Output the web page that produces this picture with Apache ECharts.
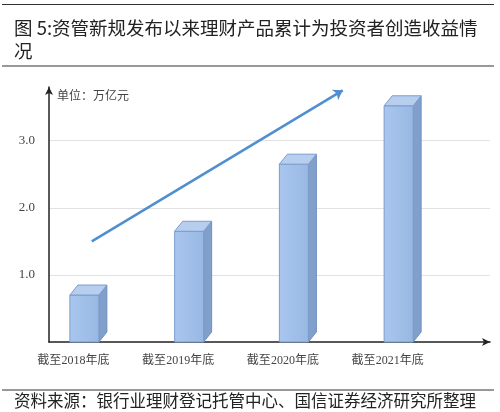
<!DOCTYPE html>
<html>
<head>
<meta charset="utf-8">
<script src="https://cdn.jsdelivr.net/npm/echarts@6/dist/echarts.min.js"></script>
<style>
  html, body { margin: 0; padding: 0; background: #fff; }
  #main { width: 500px; height: 412px; }
</style>
</head>
<body>
<div id="main"></div>
<script>
// 数据
const categories = ['截至2018年底', '截至2019年底', '截至2020年底', '截至2021年底']
const values = [0.70, 1.65, 2.65, 3.52]
const yTicks = [0, 1, 2, 3]
// 趋势箭头起止点（x为0~1比例，y为万亿元）
const arrowFrom = [0.097, 1.50]
const arrowTo = [0.666, 3.75]

const myEcharts = echarts.init(document.getElementById('main'))

const serif = 'Liberation Serif, DejaVu Serif, Noto Sans CJK SC'
const cjk = 'Noto Sans CJK SC'

// 立体柱子
function renderBar (params, api) {
  const top = api.coord([api.value(0), api.value(1)])
  const base = api.coord([api.value(0), 0])
  const w = 29 // 正面宽度
  const dx = 8 // 侧面深度
  const dy = 10
  const x0 = top[0] - 3.5
  const y0 = top[1]
  const y1 = base[1]
  return {
    type: 'group',
    children: [
      {
        type: 'polygon',
        shape: { points: [[x0 + w, y0], [x0 + w + dx, y0 - dy], [x0 + w + dx, y1 - dy], [x0 + w, y1]] },
        style: { fill: '#809fca', stroke: '#7090bf', lineWidth: 1 }
      },
      {
        type: 'rect',
        shape: { x: x0, y: y0, width: w, height: y1 - y0 },
        style: {
          fill: {
            type: 'linear', x: 0, y: 0, x2: 1, y2: 0,
            colorStops: [{ offset: 0, color: '#a9c6ee' }, { offset: 1, color: '#98b8e3' }]
          },
          stroke: '#7b9dcc',
          lineWidth: 1
        }
      },
      {
        type: 'polygon',
        shape: { points: [[x0, y0], [x0 + dx, y0 - dy], [x0 + w + dx, y0 - dy], [x0 + w, y0]] },
        style: { fill: '#b8ceee', stroke: '#7b9dcc', lineWidth: 1 }
      }
    ]
  }
}

const option = {
  title: [
    {
      text: '图 5:资管新规发布以来理财产品累计为投资者创造收益情\n况',
      left: 14,
      top: 16,
      padding: 0,
      textStyle: { fontFamily: cjk, fontSize: 18.5, fontWeight: 'normal', color: '#222', lineHeight: 23 }
    },
    {
      text: '资料来源：银行业理财登记托管中心、国信证券经济研究所整理',
      left: 14,
      top: 392,
      padding: 0,
      textStyle: { fontFamily: cjk, fontSize: 16.5, fontWeight: 'normal', color: '#222', lineHeight: 18 }
    }
  ],
  graphic: [
    { type: 'line', shape: { x1: 2, y1: 4.5, x2: 494, y2: 4.5 }, style: { stroke: '#333', lineWidth: 1.2 } },
    { type: 'line', shape: { x1: 2, y1: 66, x2: 494, y2: 66 }, style: { stroke: '#333', lineWidth: 1.2 } },
    { type: 'line', shape: { x1: 2, y1: 390, x2: 494, y2: 390 }, style: { stroke: '#333', lineWidth: 1.2 } }
  ],
  grid: [
    // 坐标框
    { left: 49, right: 10, top: 87, bottom: 70 },
    // 柱子
    { left: 21, width: 419, top: 87, bottom: 70 }
  ],
  xAxis: [
    {
      type: 'value',
      gridIndex: 0,
      min: 0,
      max: 1,
      axisLine: {
        show: true,
        onZero: false,
        symbol: ['none', 'arrow'],
        symbolSize: [6, 8],
        lineStyle: { color: '#222', width: 1.5 }
      },
      axisTick: { show: false },
      axisLabel: { show: false },
      splitLine: { show: false }
    },
    {
      type: 'category',
      gridIndex: 1,
      data: categories,
      axisLine: { show: false },
      axisTick: { show: false },
      axisLabel: { margin: 13, fontFamily: serif, fontSize: 12, color: '#444' }
    }
  ],
  yAxis: [
    {
      type: 'value',
      gridIndex: 0,
      min: 0,
      max: 3.8,
      interval: 1,
      name: '单位：万亿元',
      nameLocation: 'end',
      nameGap: -8,
      nameTextStyle: { fontFamily: cjk, fontSize: 12, color: '#444', align: 'left', verticalAlign: 'middle', padding: [0, 0, 0, 8] },
      axisLine: {
        show: true,
        symbol: ['none', 'arrow'],
        symbolSize: [6, 8],
        lineStyle: { color: '#222', width: 1.5 }
      },
      axisTick: { show: false },
      axisLabel: {
        margin: 14,
        showMinLabel: false,
        showMaxLabel: false,
        fontFamily: serif,
        fontSize: 13,
        color: '#444',
        formatter: v => (yTicks.indexOf(v) > 0 ? v.toFixed(1) : '')
      },
      splitLine: { show: true, showMinLine: false, showMaxLine: false, lineStyle: { color: '#e2e2e2', width: 1 } }
    },
    {
      type: 'value',
      gridIndex: 1,
      min: 0,
      max: 3.8,
      interval: 1,
      axisLine: { show: false },
      axisTick: { show: false },
      axisLabel: { show: false },
      splitLine: { show: false }
    }
  ],
  series: [
    {
      type: 'custom',
      xAxisIndex: 1,
      yAxisIndex: 1,
      renderItem: renderBar,
      data: values.map((v, i) => [i, v]),
      z: 3
    },
    {
      type: 'lines',
      coordinateSystem: 'cartesian2d',
      xAxisIndex: 0,
      yAxisIndex: 0,
      symbol: ['none', 'arrow'],
      symbolSize: 9,
      lineStyle: { color: '#4f8fd0', width: 2.5, opacity: 1 },
      data: [{ coords: [arrowFrom, arrowTo] }],
      z: 4
    }
  ]
}
myEcharts.setOption(option)
</script>
</body>
</html>
